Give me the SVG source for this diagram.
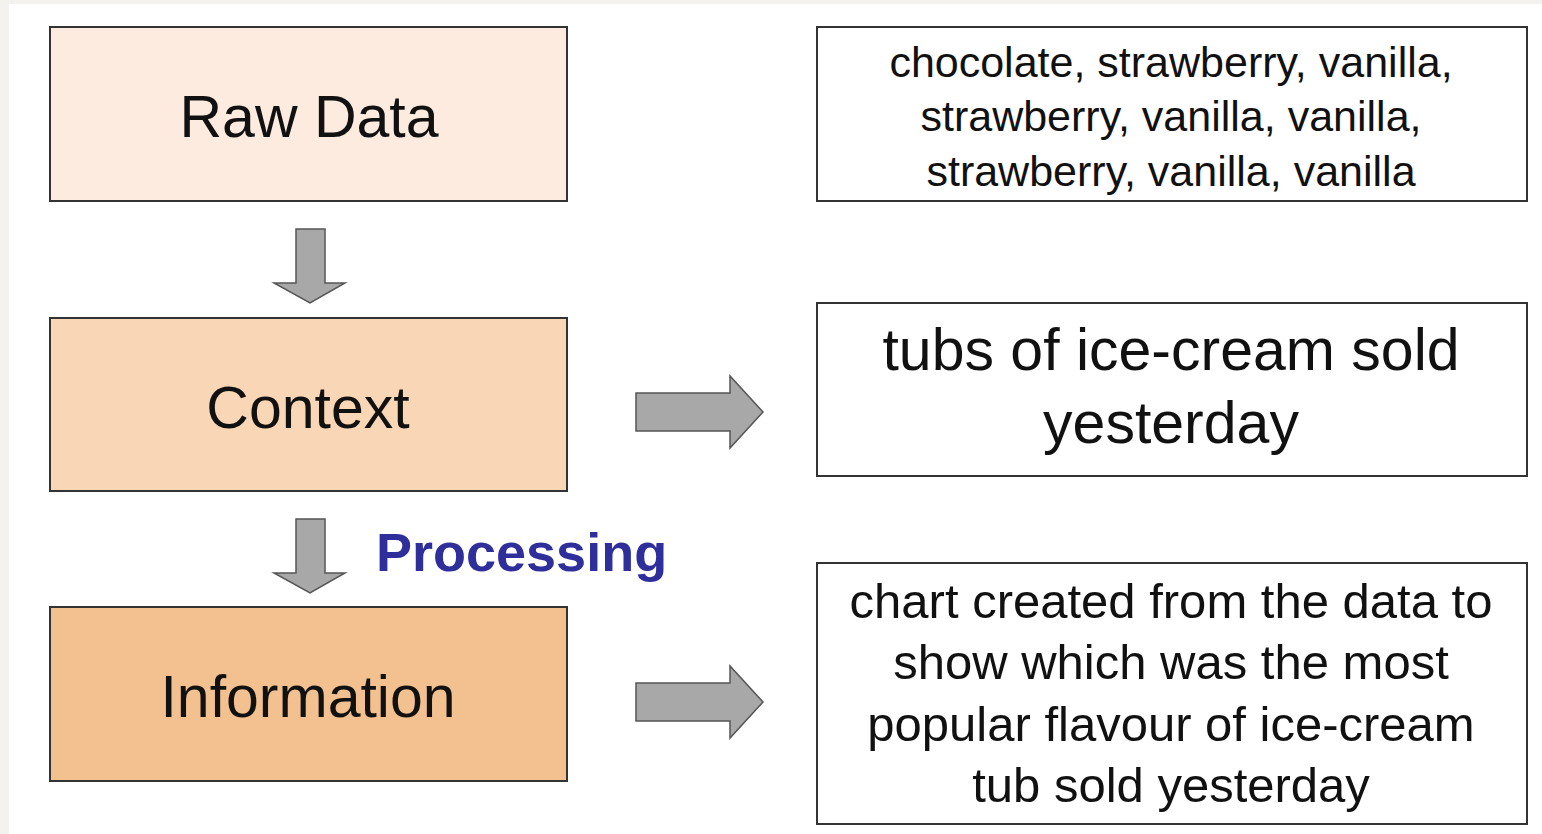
<svg xmlns="http://www.w3.org/2000/svg" width="1542" height="834" viewBox="0 0 1542 834">
<style>
.box{stroke:#333;stroke-width:2}
.lbl{font-family:"Liberation Sans",Arial,sans-serif;fill:#111;text-anchor:middle}
.big{font-size:59px}
.arrow{fill:#a8a8a8;stroke:#555;stroke-width:1.5;stroke-linejoin:miter}
</style>
<rect x="0" y="0" width="1542" height="834" fill="#f3f2ee"/>
<rect x="9" y="4" width="1533" height="830" fill="#ffffff"/>
<g id="raw-data">
<rect class="box" x="50" y="27" width="517" height="174" fill="#fcebde"/>
<text class="lbl big" x="309" y="137">Raw Data</text>
</g>
<g id="context">
<rect class="box" x="50" y="318" width="517" height="173" fill="#f9d7b6"/>
<text class="lbl big" x="308" y="428">Context</text>
</g>
<g id="information">
<rect class="box" x="50" y="607" width="517" height="174" fill="#f3c18f"/>
<text class="lbl big" x="308" y="717">Information</text>
</g>
<g id="raw-example">
<rect class="box" x="817" y="27" width="710" height="174" fill="#ffffff"/>
<text class="lbl" font-size="43" x="1171" y="77">chocolate, strawberry, vanilla,</text>
<text class="lbl" font-size="43" x="1171" y="131">strawberry, vanilla, vanilla,</text>
<text class="lbl" font-size="43" x="1171" y="186">strawberry, vanilla, vanilla</text>
</g>
<g id="context-example">
<rect class="box" x="817" y="303" width="710" height="173" fill="#ffffff"/>
<text class="lbl big" x="1171" y="370">tubs of ice-cream sold</text>
<text class="lbl big" x="1171" y="443">yesterday</text>
</g>
<g id="information-example">
<rect class="box" x="817" y="563" width="710" height="261" fill="#ffffff"/>
<text class="lbl" font-size="49" x="1171" y="618">chart created from the data to</text>
<text class="lbl" font-size="49" x="1171" y="679">show which was the most</text>
<text class="lbl" font-size="49" x="1171" y="741">popular flavour of ice-cream</text>
<text class="lbl" font-size="49" x="1171" y="802">tub sold yesterday</text>
</g>
<g id="connectors">
<path class="arrow" d="M296,229 H325 V283 H345 L310,303 L274,283 H296 Z"/>
<path class="arrow" d="M296,519 H325 V573 H345 L310,593 L274,573 H296 Z"/>
<path class="arrow" d="M636,393 H730 V376 L763,412 L730,448 V431 H636 Z"/>
<path class="arrow" d="M636,683 H730 V666 L763,702 L730,738 V721 H636 Z"/>
<text x="376" y="571" font-family="'Liberation Sans',Arial,sans-serif" font-weight="bold" font-size="54" fill="#2f2f9c">Processing</text>
</g>
</svg>
